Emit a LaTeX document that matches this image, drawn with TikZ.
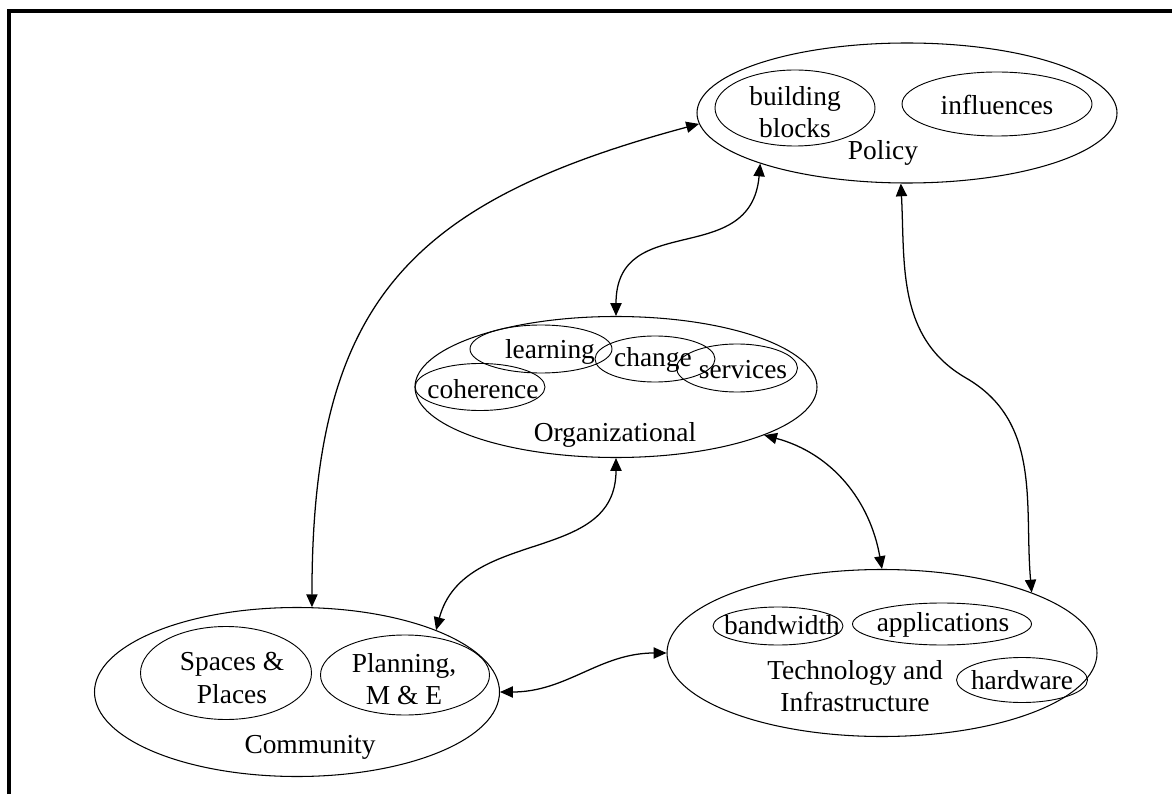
\documentclass[tikz,border=0pt]{standalone}
\usepackage{fontspec}
\setmainfont{Liberation Serif}
\usetikzlibrary{shapes.geometric, arrows.meta}

\tikzset{
  area/.style={ellipse, draw, line width=0.75pt, inner sep=0pt},
  part/.style={ellipse, draw, line width=0.65pt, inner sep=0pt},
  word/.style={align=center, inner sep=0pt, font=\fontsize{19.5}{23}\selectfont},
  link/.style={{Triangle[length=3.2mm,width=2.8mm]}-{Triangle[length=3.2mm,width=2.8mm]}, line width=0.9pt}
}

\begin{document}
\begin{tikzpicture}
\useasboundingbox (0,0) rectangle (29.3,19.85);
\draw[line width=2.4pt] (0.225,0) -- (0.225,19.575) -- (29.3,19.575);

% Policy
\node[area, minimum width=10.5cm, minimum height=3.5cm] (policy) at (22.675,17.025) {};
\node[part, minimum width=4cm, minimum height=1.9cm] (blocks) at (19.875,17.15) {};
\node[part, minimum width=4.75cm, minimum height=1.6cm] (influences) at (24.925,17.25) {};
\node[word] (blockstxt) at (19.875,17.05) {building\\blocks};
\node[word] (influencestxt) at (24.925,17.225) {influences};
\node[word] (policytxt) at (22.075,16.025) {Policy};

% Organizational
\node[area, minimum width=10.05cm, minimum height=3.525cm] (org) at (15.4,10.175) {};
\node[part, minimum width=3.55cm, minimum height=1.2cm] (learning) at (13.525,11.125) {};
\node[part, minimum width=3cm, minimum height=1.15cm] (change) at (16.375,10.875) {};
\node[part, minimum width=3.025cm, minimum height=1.2cm] (services) at (18.425,10.65) {};
\node[part, minimum width=3.25cm, minimum height=1.175cm] (coherence) at (12,10.175) {};
\node[word] (learningtxt) at (13.75,11.05) {learning};
\node[word] (changetxt) at (16.325,10.85) {change};
\node[word] (servicestxt) at (18.575,10.6) {services};
\node[word] (coherencetxt) at (12.075,10.125) {coherence};
\node[word] (orgtxt) at (15.375,8.975) {Organizational};

% Community
\node[area, minimum width=10.125cm, minimum height=4.225cm] (community) at (7.425,2.55) {};
\node[part, minimum width=4.275cm, minimum height=2.325cm] (spaces) at (5.65,3.025) {};
\node[part, minimum width=4.225cm, minimum height=2cm] (planning) at (10.125,2.975) {};
\node[word] (spacestxt) at (5.8,2.9) {Spaces \&\\Places};
\node[word] (planningtxt) at (10.1,2.875) {Planning,\\M \& E};
\node[word] (communitytxt) at (7.75,1.175) {Community};

% Technology and Infrastructure
\node[area, minimum width=10.75cm, minimum height=4.175cm] (tech) at (22.05,3.525) {};
\node[part, minimum width=3.25cm, minimum height=0.95cm] (bandwidth) at (19.45,4.2) {};
\node[part, minimum width=4.475cm, minimum height=1.05cm] (applications) at (23.55,4.25) {};
\node[part, minimum width=3.275cm, minimum height=1.125cm] (hardware) at (25.55,2.85) {};
\node[word] (bandwidthtxt) at (19.55,4.225) {bandwidth};
\node[word] (applicationstxt) at (23.575,4.225) {applications};
\node[word] (hardwaretxt) at (25.55,2.85) {hardware};
\node[word] (techtxt) at (21.375,2.7) {Technology and\\Infrastructure};

% links
\draw[link] (community.80) to[out=90, in=195, looseness=1.25] (policy.183);
\draw[link] (policy.199) to[out=-95, in=90, looseness=1.3] (org.north);
\draw[link] (org.south) to[out=-90, in=75, looseness=1.1] (community.24);
\draw[link] (org.342) to[out=-15, in=100] (tech.north);
\draw[link] (policy.265) to[out=-87, in=150] (24.15,10.4) to[out=-30, in=95] (tech.22);
\draw[link] (community.east) to[out=0, in=180] (tech.west);
\end{tikzpicture}
\end{document}
